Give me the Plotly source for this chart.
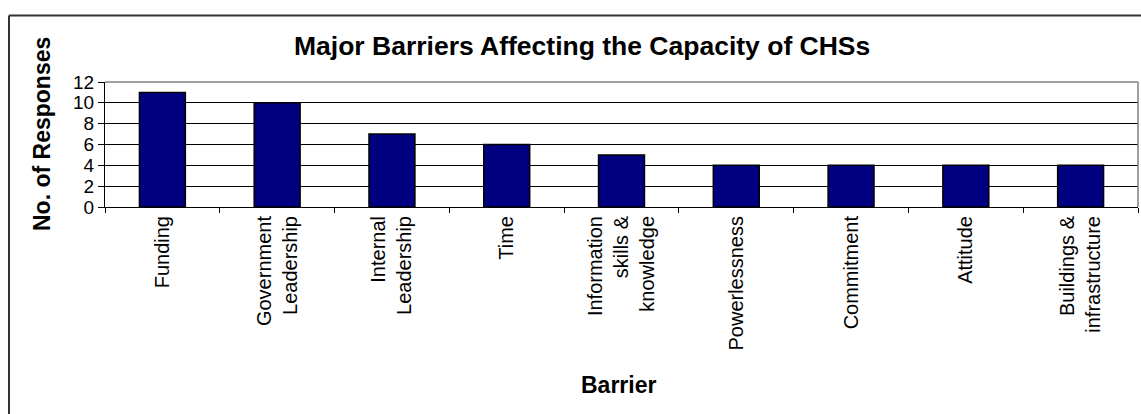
import plotly.graph_objects as go

# Survey results: barriers reported and number of responses for each
barriers = [
    "Funding",
    "Government<br>Leadership",
    "Internal<br>Leadership",
    "Time",
    "Information<br>skills &<br>knowledge",
    "Powerlessness",
    "Commitment",
    "Attitude",
    "Buildings &<br>infrastructure",
]
responses = [11, 10, 7, 6, 5, 4, 4, 4, 4]
y_ticks = [0, 2, 4, 6, 8, 10, 12]

W, H = 1141, 414
L, R, T, B = 105, 3, 82, 207
pw, ph = W - L - R, H - T - B


def px(x):
    return (x - L) / pw


def py(y):
    return (H - B - y) / ph


FONT = "Arial, Liberation Sans, sans-serif"

fig = go.Figure(
    go.Bar(
        x=barriers,
        y=responses,
        marker=dict(color="#000080", line=dict(color="#000000", width=1.5)),
    )
)

fig.update_layout(
    width=W,
    height=H,
    margin=dict(l=L, r=R, t=T, b=B),
    paper_bgcolor="white",
    plot_bgcolor="white",
    bargap=0.6,
    showlegend=False,
    font=dict(family=FONT, color="black"),
)

fig.update_xaxes(
    type="category",
    tickangle=-90,
    tickfont=dict(size=20, family=FONT, color="black"),
    showline=True,
    linecolor="black",
    linewidth=1,
    ticks="outside",
    tickson="boundaries",
    ticklen=5,
    tickcolor="black",
    showgrid=False,
)

fig.update_yaxes(
    range=[0, 12],
    tickvals=y_ticks,
    tickfont=dict(size=19, family=FONT, color="black"),
    showline=True,
    linecolor="black",
    linewidth=1,
    ticks="outside",
    ticklen=6,
    tickcolor="black",
    showgrid=True,
    gridcolor="black",
    gridwidth=1,
    zeroline=False,
)

# grey frame on the top and right of the plotting area
fig.add_shape(type="line", xref="paper", yref="paper", x0=0, x1=1, y0=1, y1=1,
              line=dict(color="#808080", width=1.5))
fig.add_shape(type="line", xref="paper", yref="paper", x0=1, x1=1, y0=0, y1=1,
              line=dict(color="#808080", width=1.5))

# outer chart border (left and top edges)
fig.add_shape(type="line", xref="paper", yref="paper",
              x0=px(9), x1=px(9), y0=py(15.5), y1=py(H + 2),
              line=dict(color="#333333", width=2))
fig.add_shape(type="line", xref="paper", yref="paper",
              x0=px(9), x1=px(W + 2), y0=py(15.5), y1=py(15.5),
              line=dict(color="#333333", width=2))

fig.add_annotation(
    text="<b>Major Barriers Affecting the Capacity of CHSs</b>",
    xref="paper", yref="paper", x=px(582), y=py(46),
    xanchor="center", yanchor="middle", showarrow=False,
    font=dict(size=26.5, family=FONT, color="black"),
)
fig.add_annotation(
    text="<b>No. of Responses</b>",
    xref="paper", yref="paper", x=px(42), y=py(134),
    xanchor="center", yanchor="middle", showarrow=False, textangle=-90,
    font=dict(size=23, family=FONT, color="black"),
)
fig.add_annotation(
    text="<b>Barrier</b>",
    xref="paper", yref="paper", x=px(618), y=py(385),
    xanchor="center", yanchor="middle", showarrow=False,
    font=dict(size=23, family=FONT, color="black"),
)

fig.write_html("out.html")
